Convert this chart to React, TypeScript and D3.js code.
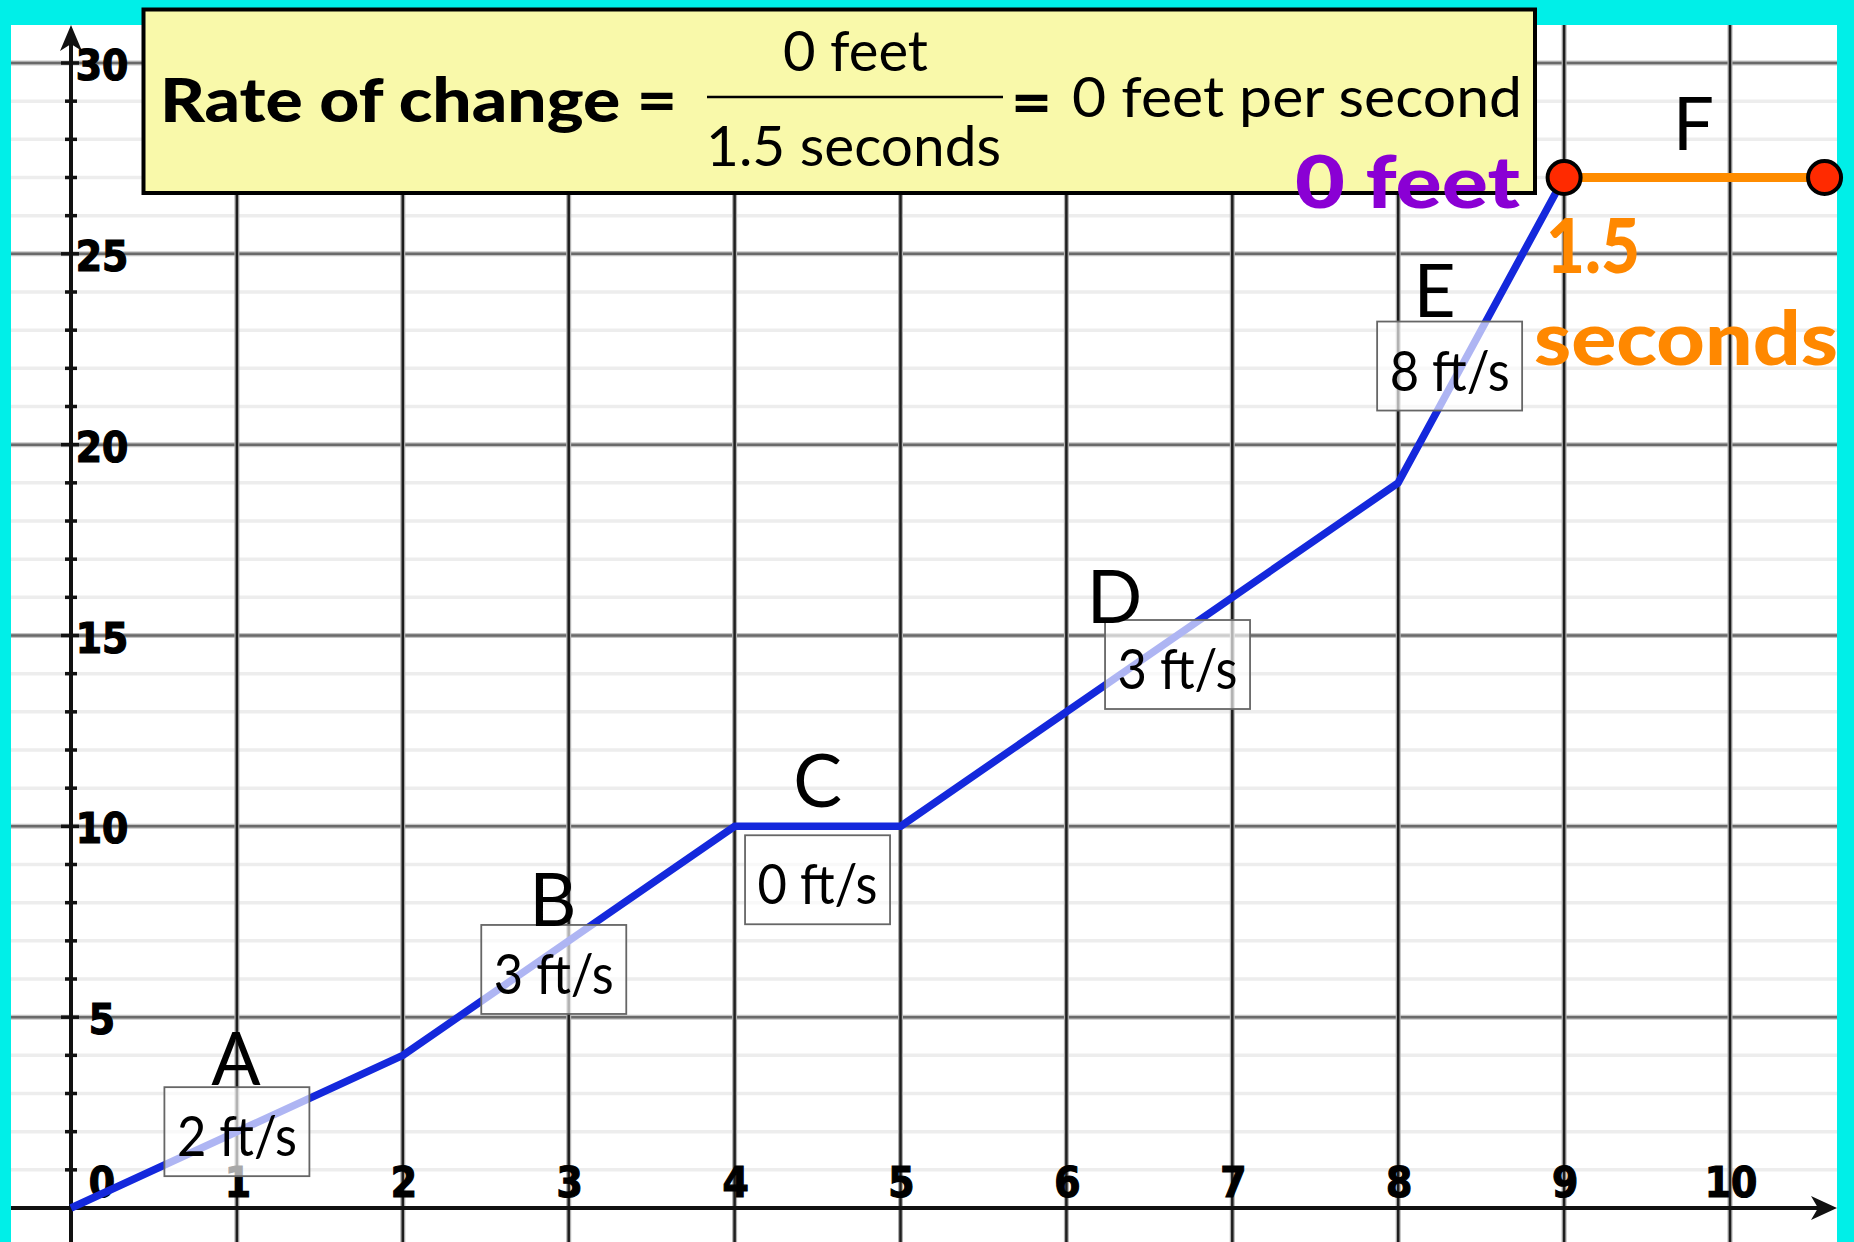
import React from 'react';
import * as d3 from 'd3';

// ---------- data ----------
const timeSeconds = [0, 2, 4, 5, 8, 9];
const distanceFeet = [0, 4, 10, 10, 19, 27];
const segmentFTime = [9, 10.57];
const segmentFDistance = [27, 27];
const segmentNames = ['A', 'B', 'C', 'D', 'E', 'F'];
const segmentRates = ['2 ft/s', '3 ft/s', '0 ft/s', '3 ft/s', '8 ft/s'];
const xTickValues = [0, 1, 2, 3, 4, 5, 6, 7, 8, 9, 10];
const yMajorTicks = [5, 10, 15, 20, 25, 30];
const yMinorTicks = d3.range(0, 32);

const titleLabel = 'Rate of change =';
const fractionTop = '0 feet';
const fractionBottom = '1.5 seconds';
const resultLabel = '0 feet per second';
const riseLabel = '0 feet';
const runLabelTop = '1.5';
const runLabelBottom = 'seconds';

// ---------- layout (data-space anchors for annotations) ----------
const nameAnchors: [number, number][] = [
  [0.995, 3.22], [2.905, 7.39], [4.5, 10.5], [6.29, 15.33], [8.22, 23.34], [9.78, 27.72],
];
const rateAnchors: [number, number][] = [
  [1.0, 2.0], [2.91, 6.25], [4.5, 8.6], [6.67, 14.24], [8.31, 22.06],
];

const W = 1854;
const H = 1242;
const CYAN = '#00efe8';
const LATO = "Lato, 'Open Sans', 'DejaVu Sans', sans-serif";
const AXISFONT = "'DejaVu Sans Condensed', 'DejaVu Sans', sans-serif";

export default function App() {
  const x = d3.scaleLinear().domain([0, 10]).range([71, 1730]);
  const y = d3.scaleLinear().domain([0, 30]).range([1208, 63]);

  const plotLeft = 11;
  const plotRight = 1837;
  const plotTop = 25;

  const line = d3.line<[number, number]>().x((d) => x(d[0])).y((d) => y(d[1]));
  const mainPts: [number, number][] = timeSeconds.map((t, i) => [t, distanceFeet[i]]);
  const fPts: [number, number][] = segmentFTime.map((t, i) => [t, segmentFDistance[i]]);

  const x0 = x(0);
  const y0 = y(0);
  const boxW = 145;
  const boxH = 89;

  return (
    <svg
      width={W}
      height={H}
      style={{ position: 'absolute', left: 0, top: 0, display: 'block' }}
      xmlns="http://www.w3.org/2000/svg"
    >
      <rect x={0} y={0} width={W} height={H} fill={CYAN} />
      <rect x={plotLeft} y={plotTop} width={plotRight - plotLeft} height={H - plotTop} fill="#ffffff" />

      {/* minor horizontal grid */}
      {yMinorTicks.filter((v) => v % 5 !== 0 && y(v) > plotTop).map((v) => (
        <line key={'mn' + v} x1={plotLeft} x2={plotRight} y1={y(v)} y2={y(v)} stroke="#ededed" strokeWidth={3.5} />
      ))}
      {/* major horizontal grid */}
      {yMajorTicks.map((v) => (
        <g key={'mj' + v}>
          <line x1={plotLeft} x2={plotRight} y1={y(v)} y2={y(v)} stroke="#c4c4c4" strokeWidth={5} />
          <line x1={plotLeft} x2={plotRight} y1={y(v)} y2={y(v)} stroke="#6a6a6a" strokeWidth={2.5} />
        </g>
      ))}
      {/* vertical grid */}
      {xTickValues.filter((v) => v > 0).map((v) => (
        <g key={'vg' + v}>
          <line x1={x(v)} x2={x(v)} y1={plotTop} y2={H} stroke="#b0b0b0" strokeWidth={5} />
          <line x1={x(v)} x2={x(v)} y1={plotTop} y2={H} stroke="#1e1e1e" strokeWidth={2.5} />
        </g>
      ))}

      {/* axes */}
      <line x1={plotLeft} x2={plotRight - 10} y1={y0} y2={y0} stroke="#111" strokeWidth={4} />
      <path d={`M${plotRight},${y0} L${plotRight - 26},${y0 - 12} L${plotRight - 19},${y0} L${plotRight - 26},${y0 + 12} Z`} fill="#111" />
      <line x1={x0} x2={x0} y1={H} y2={plotTop + 10} stroke="#111" strokeWidth={4} />
      <path d={`M${x0},${plotTop} L${x0 - 11},${plotTop + 26} L${x0},${plotTop + 19} L${x0 + 11},${plotTop + 26} Z`} fill="#111" />

      {/* y ticks */}
      {yMinorTicks.filter((v) => v > 0 && v <= 30).map((v) => (
        <line
          key={'yt' + v}
          x1={v % 5 === 0 ? x0 - 10 : x0 - 6}
          x2={v % 5 === 0 ? x0 + 8 : x0 + 6}
          y1={y(v)}
          y2={y(v)}
          stroke="#111"
          strokeWidth={3.5}
        />
      ))}

      {/* y tick labels */}
      {yMajorTicks.map((v) => (
        <text
          key={'yl' + v}
          x={x0 + 31}
          y={y(v) + 17}
          textAnchor="middle"
          fontFamily={AXISFONT}
          fontWeight="bold"
          fontSize={42}
          stroke="#000"
          strokeWidth={1.2}
          fill="#000"
        >
          {v}
        </text>
      ))}
      {/* x tick labels */}
      {xTickValues.map((v) => (
        <text
          key={'xl' + v}
          x={v === 0 ? x0 + 31 : x(v) + 1}
          y={y0 - 11}
          textAnchor="middle"
          fontFamily={AXISFONT}
          fontWeight="bold"
          fontSize={42}
          stroke="#000"
          strokeWidth={1.2}
          fill="#000"
        >
          {v}
        </text>
      ))}

      {/* data lines */}
      <path d={line(mainPts) || ''} fill="none" stroke="#1428dc" strokeWidth={7.5} strokeLinejoin="round" />
      <path d={line(fPts) || ''} fill="none" stroke="#ff8c00" strokeWidth={9} />

      {/* rate boxes */}
      {segmentRates.map((r, i) => {
        const cx = x(rateAnchors[i][0]);
        const cy = y(rateAnchors[i][1]);
        return (
          <g key={'rb' + i}>
            <rect
              x={cx - boxW / 2}
              y={cy - boxH / 2}
              width={boxW}
              height={boxH}
              fill="#ffffff"
              fillOpacity={0.66}
              stroke="#666"
              strokeWidth={1.8}
            />
            <text
              x={cx}
              y={cy + 24.5}
              textAnchor="middle"
              fontFamily={LATO}
              fontSize={57}
              textLength={120}
              lengthAdjust="spacingAndGlyphs"
              fill="#000"
            >
              {r}
            </text>
          </g>
        );
      })}

      {/* segment names */}
      {segmentNames.map((n, i) => (
        <text
          key={'nm' + n}
          x={x(nameAnchors[i][0])}
          y={y(nameAnchors[i][1])}
          textAnchor="middle"
          fontFamily={LATO}
          fontSize={73}
          fill="#000"
        >
          {n}
        </text>
      ))}

      {/* yellow formula box */}
      <rect x={143.5} y={9.5} width={1391.5} height={183.5} fill="#f9f9aa" stroke="#000" strokeWidth={4} />
      <text x={160} y={122} fontFamily={LATO} fontWeight={900} fontSize={60} textLength={517} lengthAdjust="spacingAndGlyphs" fill="#000">
        {titleLabel}
      </text>
      <text x={783} y={71} fontFamily={LATO} fontSize={56} textLength={145} lengthAdjust="spacingAndGlyphs" fill="#000">
        {fractionTop}
      </text>
      <line x1={707} x2={1003} y1={97} y2={97} stroke="#000" strokeWidth={2.5} />
      <text x={706} y={166} fontFamily={LATO} fontSize={56} textLength={295} lengthAdjust="spacingAndGlyphs" fill="#000">
        {fractionBottom}
      </text>
      <text x={1011} y={124} fontFamily={LATO} fontWeight={900} fontSize={62} textLength={41} lengthAdjust="spacingAndGlyphs" fill="#000">
        =
      </text>
      <text x={1072} y={117} fontFamily={LATO} fontSize={56} textLength={450} lengthAdjust="spacingAndGlyphs" fill="#000">
        {resultLabel}
      </text>

      {/* endpoints */}
      {fPts.map((p, i) => (
        <circle key={'pt' + i} cx={x(p[0])} cy={y(p[1])} r={16.5} fill="#ff2a00" stroke="#000" strokeWidth={4} />
      ))}

      {/* rise / run labels */}
      <text x={1295} y={208} fontFamily={LATO} fontWeight={900} fontSize={72} textLength={225} lengthAdjust="spacingAndGlyphs" fill="#8a00d4">
        {riseLabel}
      </text>
      <text x={1546} y={273} fontFamily={LATO} fontWeight={900} fontSize={76} textLength={94} lengthAdjust="spacingAndGlyphs" fill="#ff8800">
        {runLabelTop}
      </text>
      <text x={1534} y={365} fontFamily={LATO} fontWeight={900} fontSize={74} textLength={304} lengthAdjust="spacingAndGlyphs" fill="#ff8800">
        {runLabelBottom}
      </text>
    </svg>
  );
}
